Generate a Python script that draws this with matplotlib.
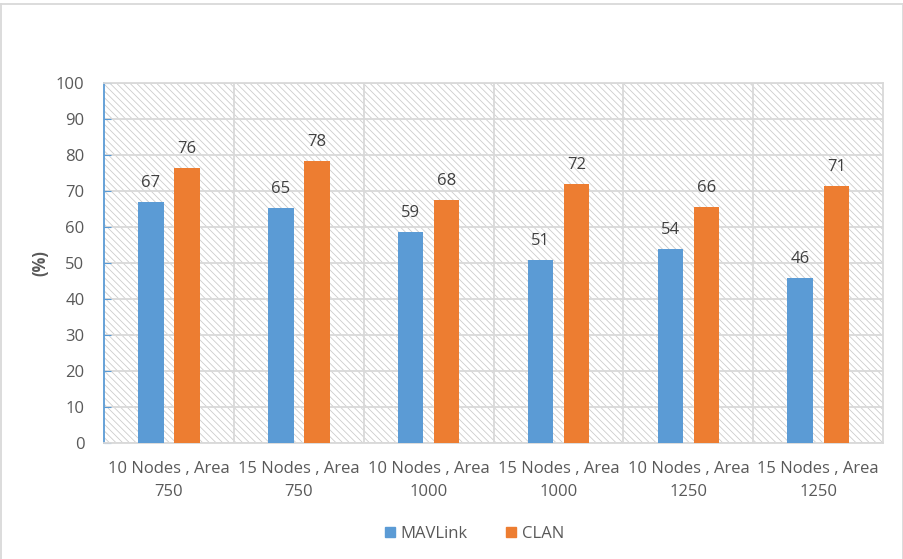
import numpy as np
import matplotlib
matplotlib.use('Agg')
import matplotlib.pyplot as plt
from matplotlib.patches import Rectangle, Patch
from matplotlib.lines import Line2D

# data
categories = ['10 Nodes , Area\n750', '15 Nodes , Area\n750', '10 Nodes , Area\n1000',
              '15 Nodes , Area\n1000', '10 Nodes , Area\n1250', '15 Nodes , Area\n1250']
mavlink = [66.9, 65.2, 58.6, 50.8, 53.9, 45.7]
clan = [76.3, 78.3, 67.6, 72.0, 65.6, 71.4]
series_names = ['MAVLink', 'CLAN']
yticks = list(range(0, 101, 10))

BLUE = '#5b9bd5'
ORANGE = '#ed7d31'
TEXT = '#595959'
GRID = '#d9d9d9'

plt.rcParams['font.family'] = ['Open Sans', 'DejaVu Sans']
plt.rcParams['hatch.color'] = '#cccccc'
plt.rcParams['hatch.linewidth'] = 0.6

fig = plt.figure(figsize=(9.04, 5.59), dpi=100)
ax = fig.add_axes([0.115, 0.2075, 0.862, 0.644])

x = np.arange(len(categories))
off = 0.139
w = 0.197
FS = 12

# hatched plot background
ax.add_patch(Rectangle((0, 0), 1, 1, transform=ax.transAxes, facecolor='white',
                       edgecolor='#cccccc', hatch='\\\\\\\\\\', lw=0, zorder=0))

b1 = ax.bar(x - off, mavlink, w, color=BLUE, zorder=3)
b2 = ax.bar(x + off, clan, w, color=ORANGE, zorder=3)

for bars, vals in ((b1, mavlink), (b2, clan)):
    for rect, v in zip(bars, vals):
        ax.annotate(f'{v:.0f}', (rect.get_x() + rect.get_width() / 2, v),
                    xytext=(0, 8), textcoords='offset points', ha='center', va='bottom',
                    fontsize=FS, color='#404040')

ax.set_xlim(-0.5, len(categories) - 0.5)
ax.set_ylim(0, 100)
ax.set_yticks(yticks)
ax.set_xticks(x)
ax.set_xticklabels(categories, fontsize=FS, color=TEXT, linespacing=1.6)
ax.tick_params(axis='y', labelsize=FS, labelcolor=TEXT, direction='in', length=5,
               color=BLUE, pad=14)
ax.tick_params(axis='x', length=0, pad=13)

ax.yaxis.grid(True, color=GRID, lw=1.3, zorder=1)
for xb in np.arange(0.5, len(categories) - 0.5):
    ax.axvline(xb, color=GRID, lw=1.3, zorder=1)
ax.set_axisbelow(True)

for s in ('top', 'right', 'bottom'):
    ax.spines[s].set_color(GRID)
    ax.spines[s].set_linewidth(1.3)
ax.spines['left'].set_color(BLUE)
ax.spines['left'].set_linewidth(1.3)

ax.set_ylabel('(%)', fontsize=FS, fontweight='bold', color=TEXT, labelpad=5)

handles = [Patch(color=BLUE), Patch(color=ORANGE)]
fig.legend(handles, series_names, loc='center', bbox_to_anchor=(0.525, 0.045), ncol=2,
           frameon=False, fontsize=FS, handlelength=0.6, handleheight=0.6,
           handletextpad=0.35, columnspacing=2.3, labelcolor=TEXT)

# outer chart border
border = dict(color=GRID, lw=1.3, transform=fig.transFigure)
fig.add_artist(Line2D([1 / 904, 903 / 904], [1 - 4 / 559] * 2, **border))
fig.add_artist(Line2D([1 / 904] * 2, [0, 1 - 4 / 559], **border))
fig.add_artist(Line2D([903 / 904] * 2, [0, 1 - 4 / 559], **border))

fig.savefig('out.png', dpi=100)
